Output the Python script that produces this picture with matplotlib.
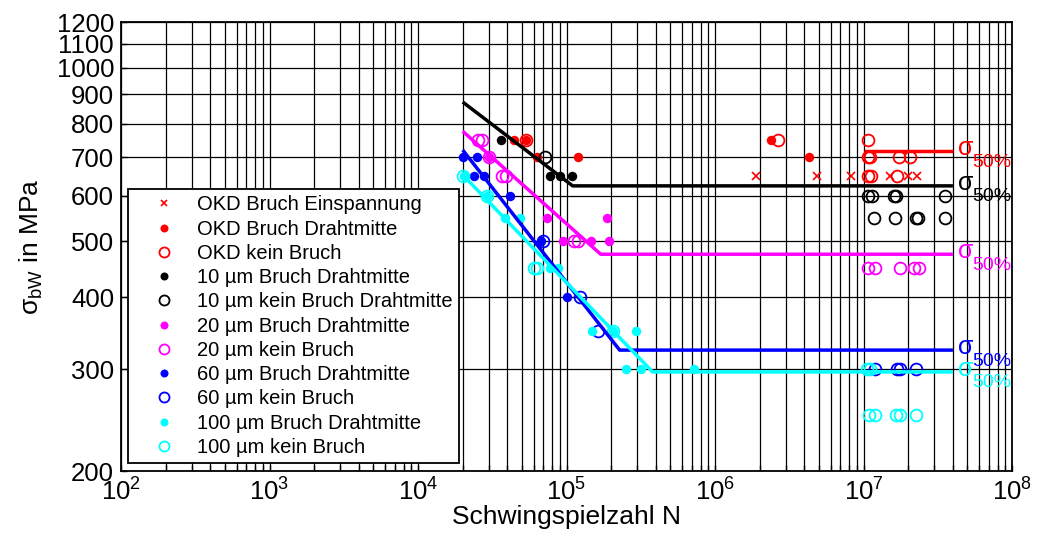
import matplotlib
matplotlib.use("Agg")
import matplotlib.pyplot as plt
from matplotlib.ticker import FixedLocator, FixedFormatter, NullFormatter, NullLocator

plt.rcParams["font.family"] = ["Liberation Sans", "DejaVu Sans"]
plt.rcParams["mathtext.fontset"] = "custom"
plt.rcParams["mathtext.rm"] = "Liberation Sans"
plt.rcParams["mathtext.it"] = "Liberation Sans:italic"
plt.rcParams["mathtext.bf"] = "Liberation Sans:bold"

# ---- measured fatigue results (N = cycles, S = stress amplitude in MPa) ----
okd_einsp_N = [1.9e6, 4.9e6, 8.2e6, 1.5e7, 2.0e7, 2.3e7]
okd_einsp_S = [650, 650, 650, 650, 650, 650]

okd_bruch_N = [4.4e4, 5.3e4, 6.3e4, 1.19e5, 2.4e6, 4.3e6]
okd_bruch_S = [750, 750, 700, 700, 750, 700]

okd_kein_N = [5.3e4, 2.65e6, 1.07e7, 1.07e7, 1.1e7, 1.73e7, 2.06e7, 1.07e7, 1.13e7, 1.68e7]
okd_kein_S = [750, 750, 750, 700, 700, 700, 700, 650, 650, 650]

um10_bruch_N = [3.6e4, 7.7e4, 9.1e4, 1.09e5]
um10_bruch_S = [750, 650, 650, 650]

um10_kein_N = [7.2e4, 1.07e7, 1.14e7, 1.6e7, 1.65e7, 3.55e7, 1.17e7, 1.64e7, 2.26e7, 2.34e7, 3.55e7]
um10_kein_S = [700, 600, 600, 600, 600, 600, 550, 550, 550, 550, 550]

um20_bruch_N = [3.0e4, 7.4e4, 1.88e5, 9.5e4, 1.46e5, 1.93e5]
um20_bruch_S = [700, 550, 550, 500, 500, 500]

um20_kein_N = [2.55e4, 2.7e4, 3.0e4, 3.65e4, 3.9e4, 1.13e5, 1.2e5, 1.07e7, 1.2e7, 1.77e7, 2.2e7, 2.35e7]
um20_kein_S = [750, 750, 700, 650, 650, 500, 500, 450, 450, 450, 450, 450]

um60_bruch_N = [2.0e4, 2.48e4, 2.37e4, 2.8e4, 4.15e4, 6.7e4, 1.0e5]
um60_bruch_S = [700, 700, 650, 650, 600, 500, 400]

um60_kein_N = [6.9e4, 1.24e5, 1.62e5, 1.2e7, 1.67e7, 1.77e7, 2.26e7]
um60_kein_S = [500, 400, 350, 300, 300, 300, 300]

um100_bruch_N = [2.05e4, 2.92e4, 3.88e4, 4.83e4, 7.8e4, 8.75e4, 1.48e5, 2.07e5, 2.92e5, 2.5e5, 3.16e5, 7.2e5]
um100_bruch_S = [650, 600, 550, 550, 450, 450, 350, 350, 350, 300, 300, 300]

um100_kein_N = [2.0e4, 2.92e4, 6.0e4, 6.3e4, 2.07e5, 1.06e7, 1.1e7, 1.09e7, 1.2e7, 1.65e7, 1.77e7, 2.26e7]
um100_kein_S = [650, 600, 450, 450, 350, 300, 300, 250, 250, 250, 250, 250]

# ---- S-N curves: start, knee, end (N) and stress values ----
okd_curve_N = [1.0e7, 4.0e7]
okd_curve_S = [717, 717]
um10_curve_N = [2.0e4, 1.1e5, 4.0e7]
um10_curve_S = [872, 624, 624]
um20_curve_N = [2.0e4, 1.7e5, 4.0e7]
um20_curve_S = [776, 475, 475]
um60_curve_N = [2.0e4, 2.28e5, 4.0e7]
um60_curve_S = [720, 324, 324]
um100_curve_N = [2.0e4, 3.8e5, 4.0e7]
um100_curve_S = [652, 297, 297]

y_ticks = [200, 300, 400, 500, 600, 700, 800, 900, 1000, 1100, 1200]
x_decades = [2, 3, 4, 5, 6, 7, 8]

RED, BLACK, MAG, BLUE, CYAN = "#ff0000", "#000000", "#ff00ff", "#0000ff", "#00ffff"

fig = plt.figure(figsize=(10.38, 5.42), dpi=100)
ax = fig.add_axes([121 / 1038, 1 - 471 / 542, (1012 - 121) / 1038, (471 - 22) / 542])
ax.set_xscale("log")
ax.set_yscale("log")
ax.set_xlim(1e2, 1e8)
ax.set_ylim(200, 1200)

filled = dict(marker="o", ms=6.8, ls="none", mew=0, zorder=4)
opened = dict(marker="o", ms=8.5, ls="none", mfc="none", mew=1.3, zorder=4)

ax.plot(okd_einsp_N, okd_einsp_S, marker="x", ms=5.5, mew=1.2, ls="none", color=RED, zorder=4,
        label="OKD Bruch Einspannung")
ax.plot(okd_bruch_N, okd_bruch_S, color=RED, label="OKD Bruch Drahtmitte", **filled)
ax.plot(okd_kein_N, okd_kein_S, color=RED, label="OKD kein Bruch", **opened)
ax.plot(um10_bruch_N, um10_bruch_S, color=BLACK, label="10 µm Bruch Drahtmitte", **filled)
ax.plot(um10_kein_N, um10_kein_S, color=BLACK, label="10 µm kein Bruch Drahtmitte", **opened)
ax.plot(um20_bruch_N, um20_bruch_S, color=MAG, label="20 µm Bruch Drahtmitte", **filled)
ax.plot(um20_kein_N, um20_kein_S, color=MAG, label="20 µm kein Bruch", **opened)
ax.plot(um60_bruch_N, um60_bruch_S, color=BLUE, label="60 µm Bruch Drahtmitte", **filled)
ax.plot(um60_kein_N, um60_kein_S, color=BLUE, label="60 µm kein Bruch", **opened)
ax.plot(um100_bruch_N, um100_bruch_S, color=CYAN, label="100 µm Bruch Drahtmitte", **filled)
ax.plot(um100_kein_N, um100_kein_S, color=CYAN, label="100 µm kein Bruch", **opened)

curves = [(okd_curve_N, okd_curve_S, RED), (um10_curve_N, um10_curve_S, BLACK),
          (um20_curve_N, um20_curve_S, MAG), (um60_curve_N, um60_curve_S, BLUE),
          (um100_curve_N, um100_curve_S, CYAN)]
for cN, cS, col in curves:
    ax.plot(cN, cS, color=col, lw=2.5, zorder=5, solid_capstyle="butt")
    ax.annotate("σ", xy=(cN[-1], cS[-1]), xytext=(5, 3), textcoords="offset pixels",
                ha="left", va="center", fontsize=18, color=col)
    ax.annotate("50%", xy=(cN[-1], cS[-1]), xytext=(19, -11), textcoords="offset pixels",
                ha="left", va="center", fontsize=14, color=col)

# axes, ticks and grid
ax.yaxis.set_major_locator(FixedLocator(y_ticks))
ax.yaxis.set_major_formatter(FixedFormatter([str(v) for v in y_ticks]))
ax.yaxis.set_minor_locator(NullLocator())
ax.xaxis.set_major_locator(FixedLocator([10.0 ** d for d in x_decades]))
ax.xaxis.set_major_formatter(FixedFormatter([f"$10^{{{d}}}$" for d in x_decades]))
ax.xaxis.set_minor_locator(FixedLocator([m * 10.0 ** d for d in x_decades[:-1] for m in range(2, 10)]))
ax.xaxis.set_minor_formatter(NullFormatter())
ax.grid(True, which="both", color="black", lw=0.9, zorder=1)
ax.set_axisbelow(True)
ax.tick_params(which="both", direction="in", length=4, width=1, labelsize=18.5, pad=5,
               top=False, right=False)
for sp in ax.spines.values():
    sp.set_linewidth(1.3)

ax.set_xlabel("Schwingspielzahl N", fontsize=19, labelpad=0)
ax.set_ylabel("σ$_{\\mathrm{bW}}$ in MPa", fontsize=19, labelpad=8)

leg = fig.legend(loc="upper left", bbox_to_anchor=(128 / 1038, 1 - 189 / 542),
                 bbox_transform=fig.transFigure, borderaxespad=0, fontsize=14.5,
                 frameon=True, fancybox=False, framealpha=1, edgecolor="black",
                 borderpad=0.32, labelspacing=0.26, handlelength=2.9, handletextpad=0.2,
                 markerscale=0.85)
leg.get_frame().set_linewidth(1.3)

fig.savefig("out.png", dpi=100)
